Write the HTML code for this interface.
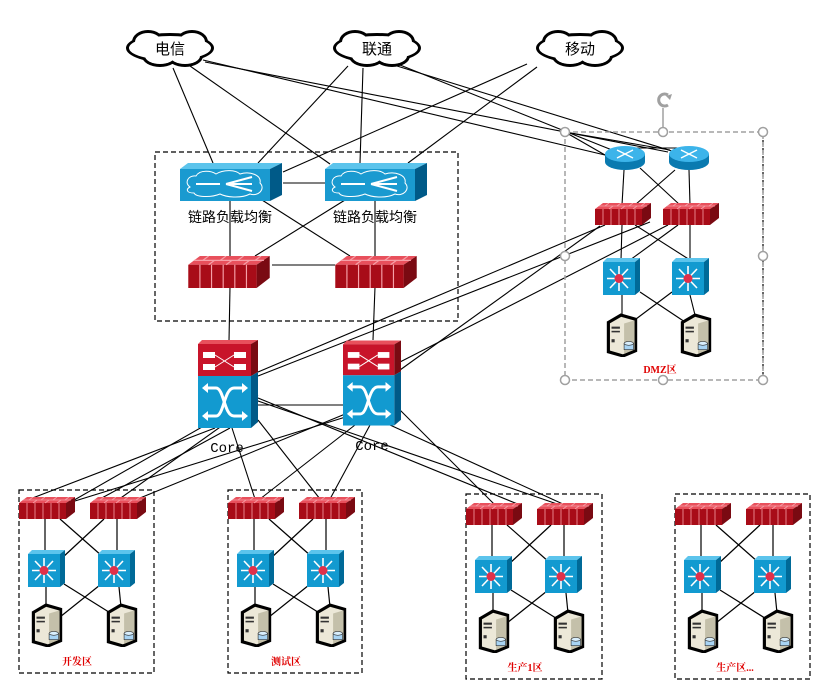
<!DOCTYPE html>
<html><head><meta charset="utf-8"><style>
html,body{margin:0;padding:0;background:#fff;}
svg{display:block;}
</style></head><body>
<svg width="830" height="688" viewBox="0 0 830 688" xmlns="http://www.w3.org/2000/svg">
<defs>
<symbol id="fw" viewBox="0 0 56 22">
<polygon points="0,6 8,0 56,0 47,6" fill="#e8505c"/>
<polygon points="47,6 56,0 56,15 47,22" fill="#7a0a12"/>
<rect x="0" y="6" width="47" height="16" fill="#a80c18"/>
<g stroke="#f6a0a8" stroke-width="0.8">
<line x1="8" y1="6" x2="8" y2="22"/><line x1="16" y1="6" x2="16" y2="22"/><line x1="24" y1="6" x2="24" y2="22"/><line x1="32" y1="6" x2="32" y2="22"/><line x1="40" y1="6" x2="40" y2="22"/>
<line x1="4" y1="3" x2="52" y2="3"/><line x1="14" y1="0" x2="10" y2="3"/><line x1="26" y1="0" x2="22" y2="3"/><line x1="38" y1="0" x2="34" y2="3"/><line x1="50" y1="0" x2="46" y2="3"/>
<line x1="18" y1="3" x2="14" y2="6"/><line x1="30" y1="3" x2="26" y2="6"/><line x1="42" y1="3" x2="38" y2="6"/>
</g>
</symbol>
<symbol id="sw" viewBox="0 0 37 37">
<polygon points="0,4 4,0 37,0 32,4" fill="#5cc4ec"/>
<polygon points="32,4 37,0 37,33 32,37" fill="#006a98"/>
<rect x="0" y="4" width="32" height="33" fill="#129ad0"/>
<g stroke="#fff" stroke-width="1.6">
<line x1="16" y1="8" x2="16" y2="33"/><line x1="4" y1="20.5" x2="28" y2="20.5"/>
<line x1="7" y1="11" x2="25" y2="30"/><line x1="25" y1="11" x2="7" y2="30"/>
</g>
<circle cx="16" cy="20.5" r="4.5" fill="#e0304a"/>
</symbol>
<symbol id="srv" viewBox="0 0 30 42">
<path d="M2,9 L14,2 L28,6 L28,36 L16,41 L2,37 Z" fill="#ece8d8" stroke="#000" stroke-width="3"/>
<polygon points="17,10 27,7 27,35 17,39" fill="#c4c0aa"/>
<rect x="5" y="13" width="8" height="2" fill="#333"/><rect x="5" y="17" width="8" height="1.5" fill="#333"/><rect x="5" y="25" width="3" height="3" fill="#333"/>
<rect x="17" y="29" width="9" height="6" fill="#a8d4f4" stroke="#333" stroke-width="0.6"/><ellipse cx="21.5" cy="29" rx="4.5" ry="1.8" fill="#d8eefc" stroke="#333" stroke-width="0.6"/>
</symbol>
<symbol id="rt" viewBox="0 0 44 26">
<path d="M2,9 L2,17 A20,8 0 0 0 42,17 L42,9 Z" fill="#0a7ab0"/>
<ellipse cx="22" cy="9" rx="20" ry="8" fill="#3cb4ea"/>
<g stroke="#fff" stroke-width="1.4"><line x1="14" y1="5" x2="30" y2="13"/><line x1="30" y1="5" x2="14" y2="13"/></g>
</symbol>
<symbol id="lb" viewBox="0 0 102 38">
<polygon points="0,6 8,0 102,0 90,6" fill="#5cc4ec"/>
<polygon points="90,6 102,0 102,32 90,38" fill="#005a88"/>
<rect x="0" y="6" width="90" height="32" fill="#1a9ad0"/>
<path d="M10,24 C4,20 8,12 16,13 C20,6 32,8 36,11 C44,6 56,7 60,11 C70,8 82,12 80,20 C86,26 78,34 70,31 C60,36 46,34 40,31 C30,35 16,34 14,30 C6,30 6,26 10,24 Z" fill="none" stroke="#fff" stroke-width="1"/>
<g stroke="#fff" stroke-width="2"><line x1="16" y1="21" x2="40" y2="21"/><line x1="46" y1="21" x2="72" y2="14"/><line x1="46" y1="21" x2="72" y2="21"/><line x1="46" y1="21" x2="72" y2="28"/></g>
</symbol>
<symbol id="core" viewBox="0 0 60 88">
<polygon points="0,4 4,0 60,0 53,4" fill="#e8505c"/>
<polygon points="53,4 60,0 60,32 53,36" fill="#7a0a12"/>
<rect x="0" y="4" width="53" height="32" fill="#c8142a"/>
<g fill="#fff"><rect x="5" y="12" width="12" height="6"/><rect x="36" y="12" width="12" height="6"/><rect x="5" y="24" width="12" height="6"/><rect x="36" y="24" width="12" height="6"/></g>
<g stroke="#fff" stroke-width="1"><line x1="17" y1="15" x2="36" y2="27"/><line x1="17" y1="27" x2="36" y2="15"/></g>
<polygon points="53,36 60,32 60,82 53,88" fill="#005a88"/>
<rect x="0" y="36" width="53" height="52" fill="#129ad0"/>
<g stroke="#fff" stroke-width="3" fill="none"><path d="M8,48 L18,48 C26,48 26,76 36,76 L46,76"/><path d="M8,76 L18,76 C26,76 26,48 36,48 L46,48"/></g>
<g fill="#fff"><polygon points="4,48 10,43 10,53"/><polygon points="50,48 44,43 44,53"/><polygon points="4,76 10,71 10,81"/><polygon points="50,76 44,71 44,81"/></g>
</symbol>
<g id="zone">
<g stroke="#000" stroke-width="1.2">
<line x1="45" y1="519" x2="45" y2="552"/><line x1="117" y1="519" x2="117" y2="552"/>
<line x1="60" y1="519" x2="102" y2="556"/><line x1="104" y1="519" x2="62" y2="558"/>
<line x1="46" y1="587" x2="46" y2="607"/><line x1="119" y1="587" x2="121" y2="607"/>
<line x1="64" y1="584" x2="112" y2="614"/><line x1="100" y1="585" x2="60" y2="617"/>
</g>
<use href="#fw" x="19" y="497" width="56" height="22"/>
<use href="#fw" x="90" y="497" width="56" height="22"/>
<use href="#sw" x="28" y="550" width="37" height="37"/>
<use href="#sw" x="98" y="550" width="37" height="37"/>
<use href="#srv" x="31" y="603" width="32" height="44"/>
<use href="#srv" x="106" y="603" width="32" height="44"/>
</g>
</defs>

<g fill="none" stroke="#000" stroke-width="1.2" stroke-dasharray="5,3">
<rect x="155" y="152" width="303" height="169"/>
<rect x="19" y="490" width="135" height="183"/>
<rect x="228" y="490" width="134" height="183"/>
<rect x="466" y="494" width="136" height="185"/>
<rect x="675" y="494" width="135" height="185"/>
<line x1="763" y1="132" x2="763" y2="380"/>
</g>

<g stroke="#000" stroke-width="1.1" fill="none">
<line x1="173" y1="68" x2="213" y2="163"/>
<line x1="190" y1="66" x2="330" y2="164"/>
<line x1="348" y1="66" x2="258" y2="163"/>
<line x1="363" y1="68" x2="360" y2="163"/>
<line x1="527" y1="64" x2="283" y2="172"/>
<line x1="537" y1="67" x2="408" y2="163"/>
<line x1="203" y1="60" x2="605" y2="155"/>
<line x1="205" y1="62" x2="668" y2="152"/>
<line x1="395" y1="63" x2="612" y2="150"/>
<line x1="397" y1="66" x2="675" y2="152"/>
<line x1="565" y1="132" x2="605" y2="155"/>
<line x1="565" y1="132" x2="670" y2="150"/>
<line x1="283" y1="183" x2="325" y2="183"/>
<line x1="230" y1="200" x2="230" y2="256"/>
<line x1="375" y1="200" x2="375" y2="256"/>
<line x1="262" y1="200" x2="350" y2="256"/>
<line x1="345" y1="200" x2="255" y2="256"/>
<line x1="272" y1="265" x2="335" y2="265"/>
<line x1="230" y1="287" x2="229" y2="341"/>
<line x1="375" y1="287" x2="373" y2="340"/>
<line x1="258" y1="405" x2="343" y2="405"/>
<line x1="258" y1="372" x2="605" y2="225"/>
<line x1="258" y1="376" x2="650" y2="222"/>
<line x1="400" y1="370" x2="600" y2="226"/>
<line x1="400" y1="362" x2="668" y2="225"/>
<line x1="624" y1="148" x2="690" y2="148"/>
<line x1="624" y1="170" x2="622" y2="205"/>
<line x1="689" y1="170" x2="690" y2="205"/>
<line x1="640" y1="168" x2="680" y2="205"/>
<line x1="675" y1="170" x2="635" y2="205"/>
<line x1="622" y1="225" x2="621" y2="260"/>
<line x1="690" y1="225" x2="690" y2="260"/>
<line x1="635" y1="225" x2="690" y2="260"/>
<line x1="678" y1="225" x2="630" y2="260"/>
<line x1="622" y1="295" x2="622" y2="315"/>
<line x1="690" y1="295" x2="695" y2="315"/>
<line x1="640" y1="292" x2="685" y2="322"/>
<line x1="672" y1="292" x2="632" y2="322"/>
<line x1="215" y1="428" x2="30" y2="499"/>
<line x1="230" y1="428" x2="100" y2="499"/>
<line x1="258" y1="395" x2="48" y2="515"/>
<line x1="258" y1="400" x2="118" y2="500"/>
<line x1="232" y1="428" x2="255" y2="499"/>
<line x1="258" y1="420" x2="320" y2="499"/>
<line x1="258" y1="398" x2="520" y2="505"/>
<line x1="258" y1="401" x2="560" y2="505"/>
<line x1="355" y1="410" x2="140" y2="498"/>
<line x1="352" y1="415" x2="62" y2="505"/>
<line x1="355" y1="425" x2="260" y2="499"/>
<line x1="370" y1="425" x2="330" y2="499"/>
<line x1="400" y1="410" x2="495" y2="505"/>
<line x1="390" y1="425" x2="565" y2="505"/>
</g>

<g>
<g fill="#000">
<ellipse cx="170" cy="48" rx="44" ry="15"/><ellipse cx="148" cy="42" rx="16" ry="12"/><ellipse cx="192" cy="42" rx="16" ry="12"/><ellipse cx="160" cy="56" rx="18" ry="11"/><ellipse cx="185" cy="56" rx="18" ry="11"/>
<ellipse cx="377" cy="48" rx="44" ry="15"/><ellipse cx="355" cy="42" rx="16" ry="12"/><ellipse cx="399" cy="42" rx="16" ry="12"/><ellipse cx="367" cy="56" rx="18" ry="11"/><ellipse cx="392" cy="56" rx="18" ry="11"/>
<ellipse cx="580" cy="48" rx="44" ry="15"/><ellipse cx="558" cy="42" rx="16" ry="12"/><ellipse cx="602" cy="42" rx="16" ry="12"/><ellipse cx="570" cy="56" rx="18" ry="11"/><ellipse cx="595" cy="56" rx="18" ry="11"/>
</g>
<g fill="#fff">
<ellipse cx="170" cy="48" rx="41" ry="12"/><ellipse cx="148" cy="42" rx="13" ry="9"/><ellipse cx="192" cy="42" rx="13" ry="9"/><ellipse cx="160" cy="56" rx="15" ry="8"/><ellipse cx="185" cy="56" rx="15" ry="8"/>
<ellipse cx="377" cy="48" rx="41" ry="12"/><ellipse cx="355" cy="42" rx="13" ry="9"/><ellipse cx="399" cy="42" rx="13" ry="9"/><ellipse cx="367" cy="56" rx="15" ry="8"/><ellipse cx="392" cy="56" rx="15" ry="8"/>
<ellipse cx="580" cy="48" rx="41" ry="12"/><ellipse cx="558" cy="42" rx="13" ry="9"/><ellipse cx="602" cy="42" rx="13" ry="9"/><ellipse cx="570" cy="56" rx="15" ry="8"/><ellipse cx="595" cy="56" rx="15" ry="8"/>
</g>
<g font-family="'Liberation Sans','Noto Sans CJK SC',sans-serif" font-size="15" text-anchor="middle" fill="#000">
<text x="170" y="54">电信</text><text x="377" y="54">联通</text><text x="580" y="54">移动</text>
</g>
</g>

<use href="#lb" x="180" y="163" width="102" height="38"/>
<use href="#lb" x="325" y="163" width="102" height="38"/>
<g font-family="'Liberation Sans','Noto Sans CJK SC',sans-serif" font-size="14" text-anchor="middle" fill="#000">
<text x="230" y="222">链路负载均衡</text><text x="375" y="222">链路负载均衡</text>
</g>
<use href="#fw" x="188" y="256" width="82" height="32"/>
<use href="#fw" x="335" y="256" width="82" height="32"/>
<use href="#core" x="198" y="340" width="60" height="88"/>
<use href="#core" x="343" y="340" width="58" height="86"/>
<g font-family="'Liberation Mono',monospace" font-size="14" text-anchor="middle" fill="#000">
<text x="227" y="452">Core</text><text x="372" y="450">Core</text>
</g>

<g fill="none" stroke="#a0a0a0" stroke-width="1.5" stroke-dasharray="5,3">
<rect x="565" y="132" width="198" height="248"/>
</g>
<line x1="663" y1="108" x2="663" y2="132" stroke="#a0a0a0" stroke-width="1.5"/>
<g fill="#fff" stroke="#a0a0a0" stroke-width="1.5">
<circle cx="565" cy="132" r="4.5"/><circle cx="663" cy="132" r="4.5"/><circle cx="763" cy="132" r="4.5"/>
<circle cx="565" cy="256" r="4.5"/><circle cx="763" cy="256" r="4.5"/>
<circle cx="565" cy="380" r="4.5"/><circle cx="663" cy="380" r="4.5"/><circle cx="763" cy="380" r="4.5"/>
</g>
<path d="M668,95 A6,6 0 1 0 668,105" fill="none" stroke="#a0a0a0" stroke-width="3"/>
<polygon points="666,96 672,94 670,100" fill="#a0a0a0"/>
<use href="#rt" x="603" y="145" width="44" height="26"/>
<use href="#rt" x="667" y="145" width="44" height="26"/>
<use href="#fw" x="595" y="203" width="56" height="22"/>
<use href="#fw" x="663" y="203" width="56" height="22"/>
<use href="#sw" x="603" y="258" width="37" height="37"/>
<use href="#sw" x="672" y="258" width="37" height="37"/>
<use href="#srv" x="606" y="313" width="32" height="44"/>
<use href="#srv" x="680" y="313" width="32" height="44"/>

<use href="#zone"/>
<use href="#zone" transform="translate(209,0)"/>
<use href="#zone" transform="translate(447,6)"/>
<use href="#zone" transform="translate(656,6)"/>

<g font-family="'Liberation Serif','Noto Serif CJK SC',serif" font-size="10" font-weight="bold" text-anchor="middle" fill="#e00000">
<text x="660" y="373">DMZ区</text>
<text x="77" y="665">开发区</text>
<text x="286" y="665">测试区</text>
<text x="525" y="671">生产1区</text>
<text x="735" y="671">生产区...</text>
</g>
</svg>
</body></html>
